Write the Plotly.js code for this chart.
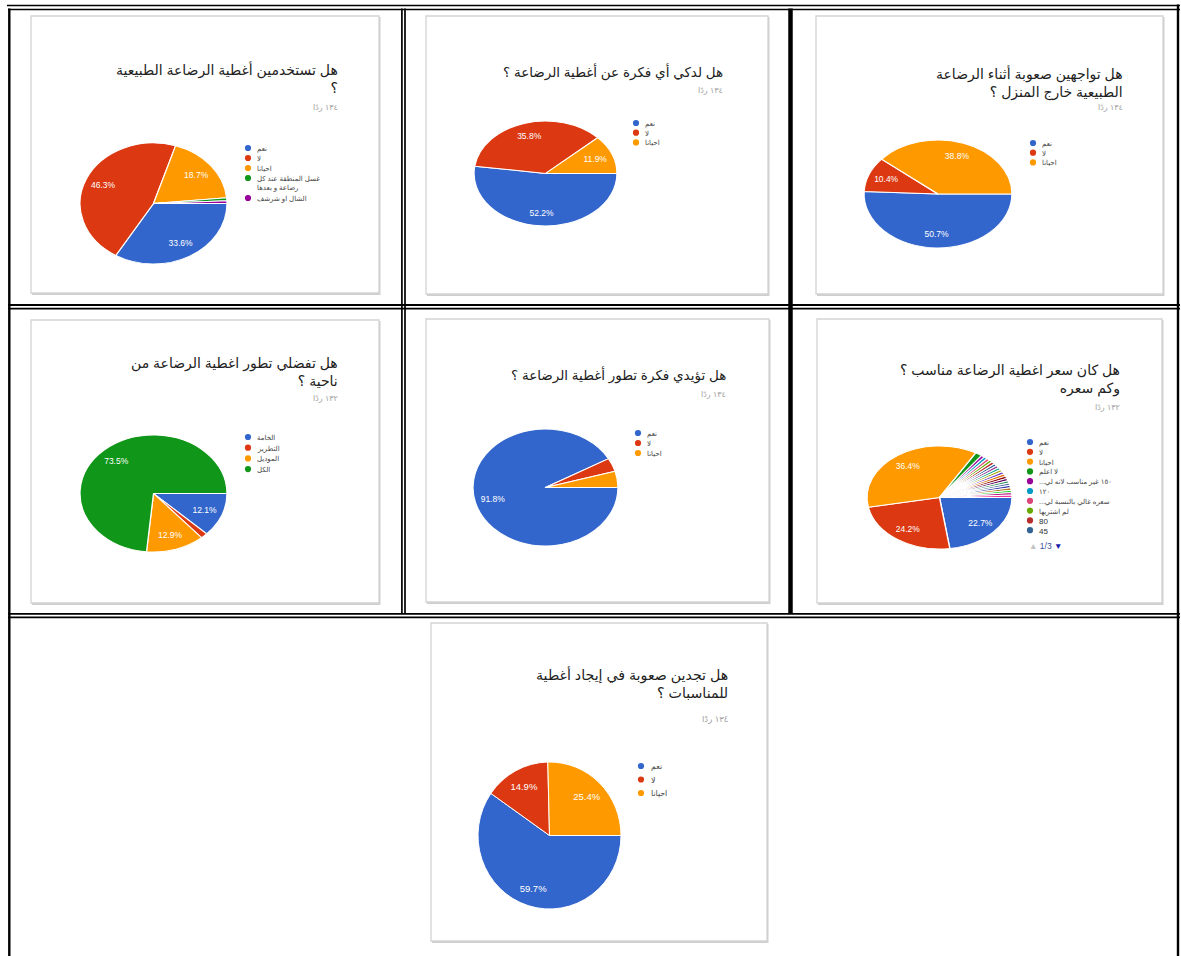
<!DOCTYPE html>
<html><head><meta charset="utf-8">
<script src="https://cdn.plot.ly/plotly-3.0.1.min.js"></script>
<style>html,body{margin:0;padding:0;background:#fff}#chart{width:1181px;height:956px}</style>
</head><body><div id="chart"></div>
<script>
// ---------------- DATA ----------------
const q1Title = "هل تستخدمين أغطية الرضاعة الطبيعية<br>؟";
const q1Responses = "١٣٤ ردًا";
const q1Labels = ["نعم", "لا", "احيانا", "غسل المنطقة عند كل<br>رضاعة و بعدها", "الشال او شرشف"];
const q1Values = [45, 62, 25, 1, 1];

const q2Title = "هل لدكي أي فكرة عن أغطية الرضاعة ؟";
const q2Responses = "١٣٤ ردًا";
const q2Labels = ["نعم", "لا", "احيانا"];
const q2Values = [70, 48, 16];

const q3Title = "هل تواجهين صعوبة أثناء الرضاعة<br>الطبيعية خارج المنزل ؟";
const q3Responses = "١٣٤ ردًا";
const q3Labels = ["نعم", "لا", "احيانا"];
const q3Values = [68, 14, 52];

const q4Title = "هل تفضلي تطور اغطية الرضاعة من<br>ناحية ؟";
const q4Responses = "١٣٢ ردًا";
const q4Labels = ["الخامة", "التطريز", "الموديل", "الكل"];
const q4Values = [16, 2, 17, 97];

const q5Title = "هل تؤيدي فكرة تطور أغطية الرضاعة ؟";
const q5Responses = "١٣٤ ردًا";
const q5Labels = ["نعم", "لا", "احيانا"];
const q5Values = [123, 5, 6];

const q6Title = "هل كان سعر اغطية الرضاعة مناسب ؟<br>وكم سعره";
const q6Responses = "١٣٢ ردًا";
const q6Labels = ["نعم", "لا", "احيانا", "لا اعلم", "...١٥٠ غير مناسب لانه لي", "١٢٠", "...سعره غالي بالنسبة لي", "لم اشتريها", "80", "45",
  "100", "150", "200", "60", "70", "90", "50", "75", "110", "130", "140", "85", "65", "55"];
const q6Values = [30, 32, 48, 2, 1, 1, 1, 1, 1, 1, 1, 1, 1, 1, 1, 1, 1, 1, 1, 1, 1, 1, 1, 1];
const q6Pager = "1/3";

const q7Title = "هل تجدين صعوبة في إيجاد أغطية<br>للمناسبات ؟";
const q7Responses = "١٣٤ ردًا";
const q7Labels = ["نعم", "لا", "احيانا"];
const q7Values = [80, 20, 34];

const palette = ["#3366cc", "#dc3912", "#ff9900", "#109618", "#990099", "#0099c6", "#dd4477", "#66aa00",
  "#b82e2e", "#316395", "#994499", "#22aa99", "#aaaa11", "#6633cc", "#e67300", "#8b0707", "#651067",
  "#329262", "#5574a6", "#3b3eac", "#b77322", "#16d620", "#b91383", "#f4359e"];

// ---------------- LAYOUT CONFIG ----------------
const W = 1181, H = 956;
const FONT = 'Arial, "Liberation Sans", "DejaVu Sans", sans-serif';
const px = x => x / W;
const py = y => 1 - y / H;
const LABEL_RADIUS = 0.75; // Google-style slice label distance (fraction of radius)

const panels = [
  {title: q1Title, resp: q1Responses, labels: q1Labels, values: q1Values,
   card: [31, 16, 379, 293], tRight: 340, tY: 78.5, sY: 107, tSize: 14, sSize: 8,
   pie: {cx: 153.5, cy: 203.5, rx: 73.5, ry: 60.5},
   leg: {cx: 248, tx: 255, y0: 148, dy: 10, size: 7, show: 5}},
  {title: q2Title, resp: q2Responses, labels: q2Labels, values: q2Values,
   card: [426, 16, 768, 294], tRight: 725, tY: 72, sY: 90, tSize: 13.5, sSize: 8,
   pie: {cx: 545.5, cy: 173.5, rx: 71.5, ry: 52.5},
   leg: {cx: 636, tx: 643, y0: 123, dy: 9.7, size: 7, show: 3}},
  {title: q3Title, resp: q3Responses, labels: q3Labels, values: q3Values,
   card: [816, 16, 1163, 294], tRight: 1125, tY: 83, sY: 107, tSize: 14, sSize: 8,
   pie: {cx: 938, cy: 194, rx: 74, ry: 54},
   leg: {cx: 1033, tx: 1040, y0: 143, dy: 9.7, size: 7, show: 3}},
  {title: q4Title, resp: q4Responses, labels: q4Labels, values: q4Values,
   card: [31, 320, 379, 603], tRight: 340, tY: 371.5, sY: 398, tSize: 14, sSize: 8,
   pie: {cx: 153.5, cy: 493.5, rx: 73.5, ry: 58.5},
   leg: {cx: 248, tx: 255, y0: 437, dy: 10.7, size: 7, show: 4}},
  {title: q5Title, resp: q5Responses, labels: q5Labels, values: q5Values,
   card: [426, 319, 769, 602], tRight: 728, tY: 375, sY: 394, tSize: 13.5, sSize: 8,
   pie: {cx: 545.5, cy: 487.5, rx: 72.5, ry: 58.5},
   leg: {cx: 638, tx: 645, y0: 433, dy: 10, size: 7, show: 3}},
  {title: q6Title, resp: q6Responses, labels: q6Labels, values: q6Values,
   card: [817, 319, 1162, 603], tRight: 1122, tY: 379.5, sY: 407, tSize: 14, sSize: 8,
   pie: {cx: 939.5, cy: 497.5, rx: 72.5, ry: 51.5},
   leg: {cx: 1030, tx: 1037, y0: 442, dy: 9.8, size: 7, show: 10, pager: q6Pager, pagerY: 546}},
  {title: q7Title, resp: q7Responses, labels: q7Labels, values: q7Values,
   card: [431, 623, 767, 941], tRight: 730, tY: 683, sY: 719, tSize: 14.2, sSize: 8.5,
   pie: {cx: 549.5, cy: 835.5, rx: 71.5, ry: 73.5},
   leg: {cx: 641, tx: 649, y0: 766, dy: 13.5, size: 7.8, show: 3}}
];

const shapes = [];
const annotations = [];
const traces = [];

// table borders
function hline(y, x0, x1, w) { shapes.push({type: 'line', xref: 'paper', yref: 'paper', x0: px(x0), x1: px(x1), y0: py(y), y1: py(y), line: {color: '#000', width: w}}); }
function vline(x, y0, y1, w) { shapes.push({type: 'line', xref: 'paper', yref: 'paper', x0: px(x), x1: px(x), y0: py(y0), y1: py(y1), line: {color: '#000', width: w}}); }
hline(5.5, 7, 1180, 1.6); hline(9.5, 8, 1180, 1.6);
vline(9.3, 8.5, 956, 2.4); vline(1178, 4.5, 956, 2.4);
hline(305, 8, 1180, 1.8); hline(308.6, 8, 1180, 1.8);
hline(613.8, 8, 1180, 1.8); hline(617.4, 8, 1180, 1.8);
vline(401.9, 8.5, 614, 1.7); vline(405, 8.5, 614, 1.7);
vline(790.5, 8.5, 614, 4.5);

panels.forEach((p, i) => {
  const [cx0, cy0, cx1, cy1] = p.card;
  shapes.push({type: 'rect', xref: 'paper', yref: 'paper', x0: px(cx0 + 1), x1: px(cx1 + 1.5), y0: py(cy1 + 2), y1: py(cy0 + 1),
    fillcolor: '#cfcfcf', line: {width: 0}, layer: 'below'});
  shapes.push({type: 'rect', xref: 'paper', yref: 'paper', x0: px(cx0), x1: px(cx1), y0: py(cy1), y1: py(cy0),
    fillcolor: '#ffffff', line: {color: '#d3d3d3', width: 1.3}, layer: 'below'});

  annotations.push({xref: 'paper', yref: 'paper', x: px(p.tRight), y: py(p.tY), xanchor: 'right', yanchor: 'middle', align: 'right',
    text: p.title, showarrow: false, font: {family: FONT, size: p.tSize, color: '#212121'}});
  annotations.push({xref: 'paper', yref: 'paper', x: px(p.tRight), y: py(p.sY), xanchor: 'right', yanchor: 'middle', align: 'right',
    text: p.resp, showarrow: false, font: {family: FONT, size: p.sSize, color: '#9e9e9e'}});

  const pd = p.pie;
  const total = p.values.reduce((a, b) => a + b, 0);
  traces.push({
    type: 'pie', labels: p.labels, values: p.values, sort: false, direction: 'clockwise', rotation: 90,
    marker: {colors: palette.slice(0, p.values.length), line: {color: '#ffffff', width: 1}},
    texttemplate: p.values.map(v => v / total >= 0.05 ? '%{percent:.1%}' : ''),
    textposition: 'inside', insidetextorientation: 'horizontal',
    insidetextfont: {family: FONT, size: i === 6 ? 9.5 : 8.5, color: '#ffffff'},
    showlegend: false, hoverinfo: 'none',
    domain: {x: [px(pd.cx - pd.ry), px(pd.cx + pd.ry)], y: [py(pd.cy + pd.ry), py(pd.cy - pd.ry)]}
  });

  const lg = p.leg;
  let y = lg.y0;
  for (let k = 0; k < Math.min(lg.show, p.labels.length); k++) {
    const r = 3.1;
    shapes.push({type: 'circle', xref: 'paper', yref: 'paper', x0: px(lg.cx - r), x1: px(lg.cx + r), y0: py(y + r), y1: py(y - r),
      fillcolor: palette[k], line: {width: 0}});
    const lines = p.labels[k].split('<br>').length;
    const isLatin = /^[0-9]+$/.test(p.labels[k]);
    annotations.push({xref: 'paper', yref: 'paper', x: px(lg.tx), y: py(y - lg.size * 0.72), xanchor: 'left', yanchor: 'top', align: 'left',
      text: p.labels[k], showarrow: false,
      font: {family: FONT, size: isLatin ? lg.size * 1.15 : lg.size, color: isLatin ? '#333' : '#444'}});
    y += lg.dy * lines;
  }
  if (lg.pager) {
    annotations.push({xref: 'paper', yref: 'paper', x: px(lg.cx - 3), y: py(lg.pagerY), xanchor: 'left', yanchor: 'middle',
      text: '<span style="color:#c4c4c4">▲</span> <span style="color:#3a4fa0">' + lg.pager + '</span> <span style="color:#1a1aa8">▼</span>',
      showarrow: false, font: {family: FONT, size: 8.5, color: '#3a4fa0'}});
  }
});

const layout = {
  width: W, height: H, margin: {l: 0, r: 0, t: 0, b: 0}, paper_bgcolor: '#ffffff', plot_bgcolor: '#ffffff',
  showlegend: false, shapes: shapes, annotations: annotations, font: {family: FONT}
};

const gd = document.getElementById('chart');
Plotly.newPlot(gd, traces, layout, {staticPlot: true, displayModeBar: false}).then(function () {
  // Stretch the pies horizontally (the source screenshots are elliptical), move each percentage
  // label out along its slice bisector (Plotly's own pxmid) and keep the labels undistorted.
  const svgNS = 'http://www.w3.org/2000/svg';
  const svgRect = gd.querySelector('.main-svg').getBoundingClientRect();
  const groups = gd.querySelectorAll('.pielayer .trace');
  groups.forEach(function (g, i) {
    const pd = panels[i].pie;
    const sx = pd.rx / pd.ry;
    const cx = pd.cx, cy = pd.cy;
    const cd = gd.calcdata[i];
    g.querySelectorAll('g.slice').forEach(function (s, k) {
      const t = s.querySelector('text.slicetext');
      if (!t || !t.textContent) return;
      const pt = cd[k];
      const r = t.getBoundingClientRect();
      const tx = (r.left + r.right) / 2 - svgRect.left;
      const ty = (r.top + r.bottom) / 2 - svgRect.top;
      let gx = tx, gy = ty;
      if (pt && pt.pxmid) {
        gx = cx + pt.pxmid[0] * LABEL_RADIUS;
        gy = cy + pt.pxmid[1] * LABEL_RADIUS;
      }
      const w = document.createElementNS(svgNS, 'g');
      t.parentNode.insertBefore(w, t);
      w.appendChild(t);
      w.setAttribute('transform', 'translate(' + gx + ',' + gy + ') scale(' + (1 / sx) + ',1) translate(' + (-tx) + ',' + (-ty) + ')');
    });
    g.setAttribute('transform', 'translate(' + cx + ',' + cy + ') scale(' + sx + ',1) translate(' + (-cx) + ',' + (-cy) + ')');
  });
});
</script>
</body></html>
